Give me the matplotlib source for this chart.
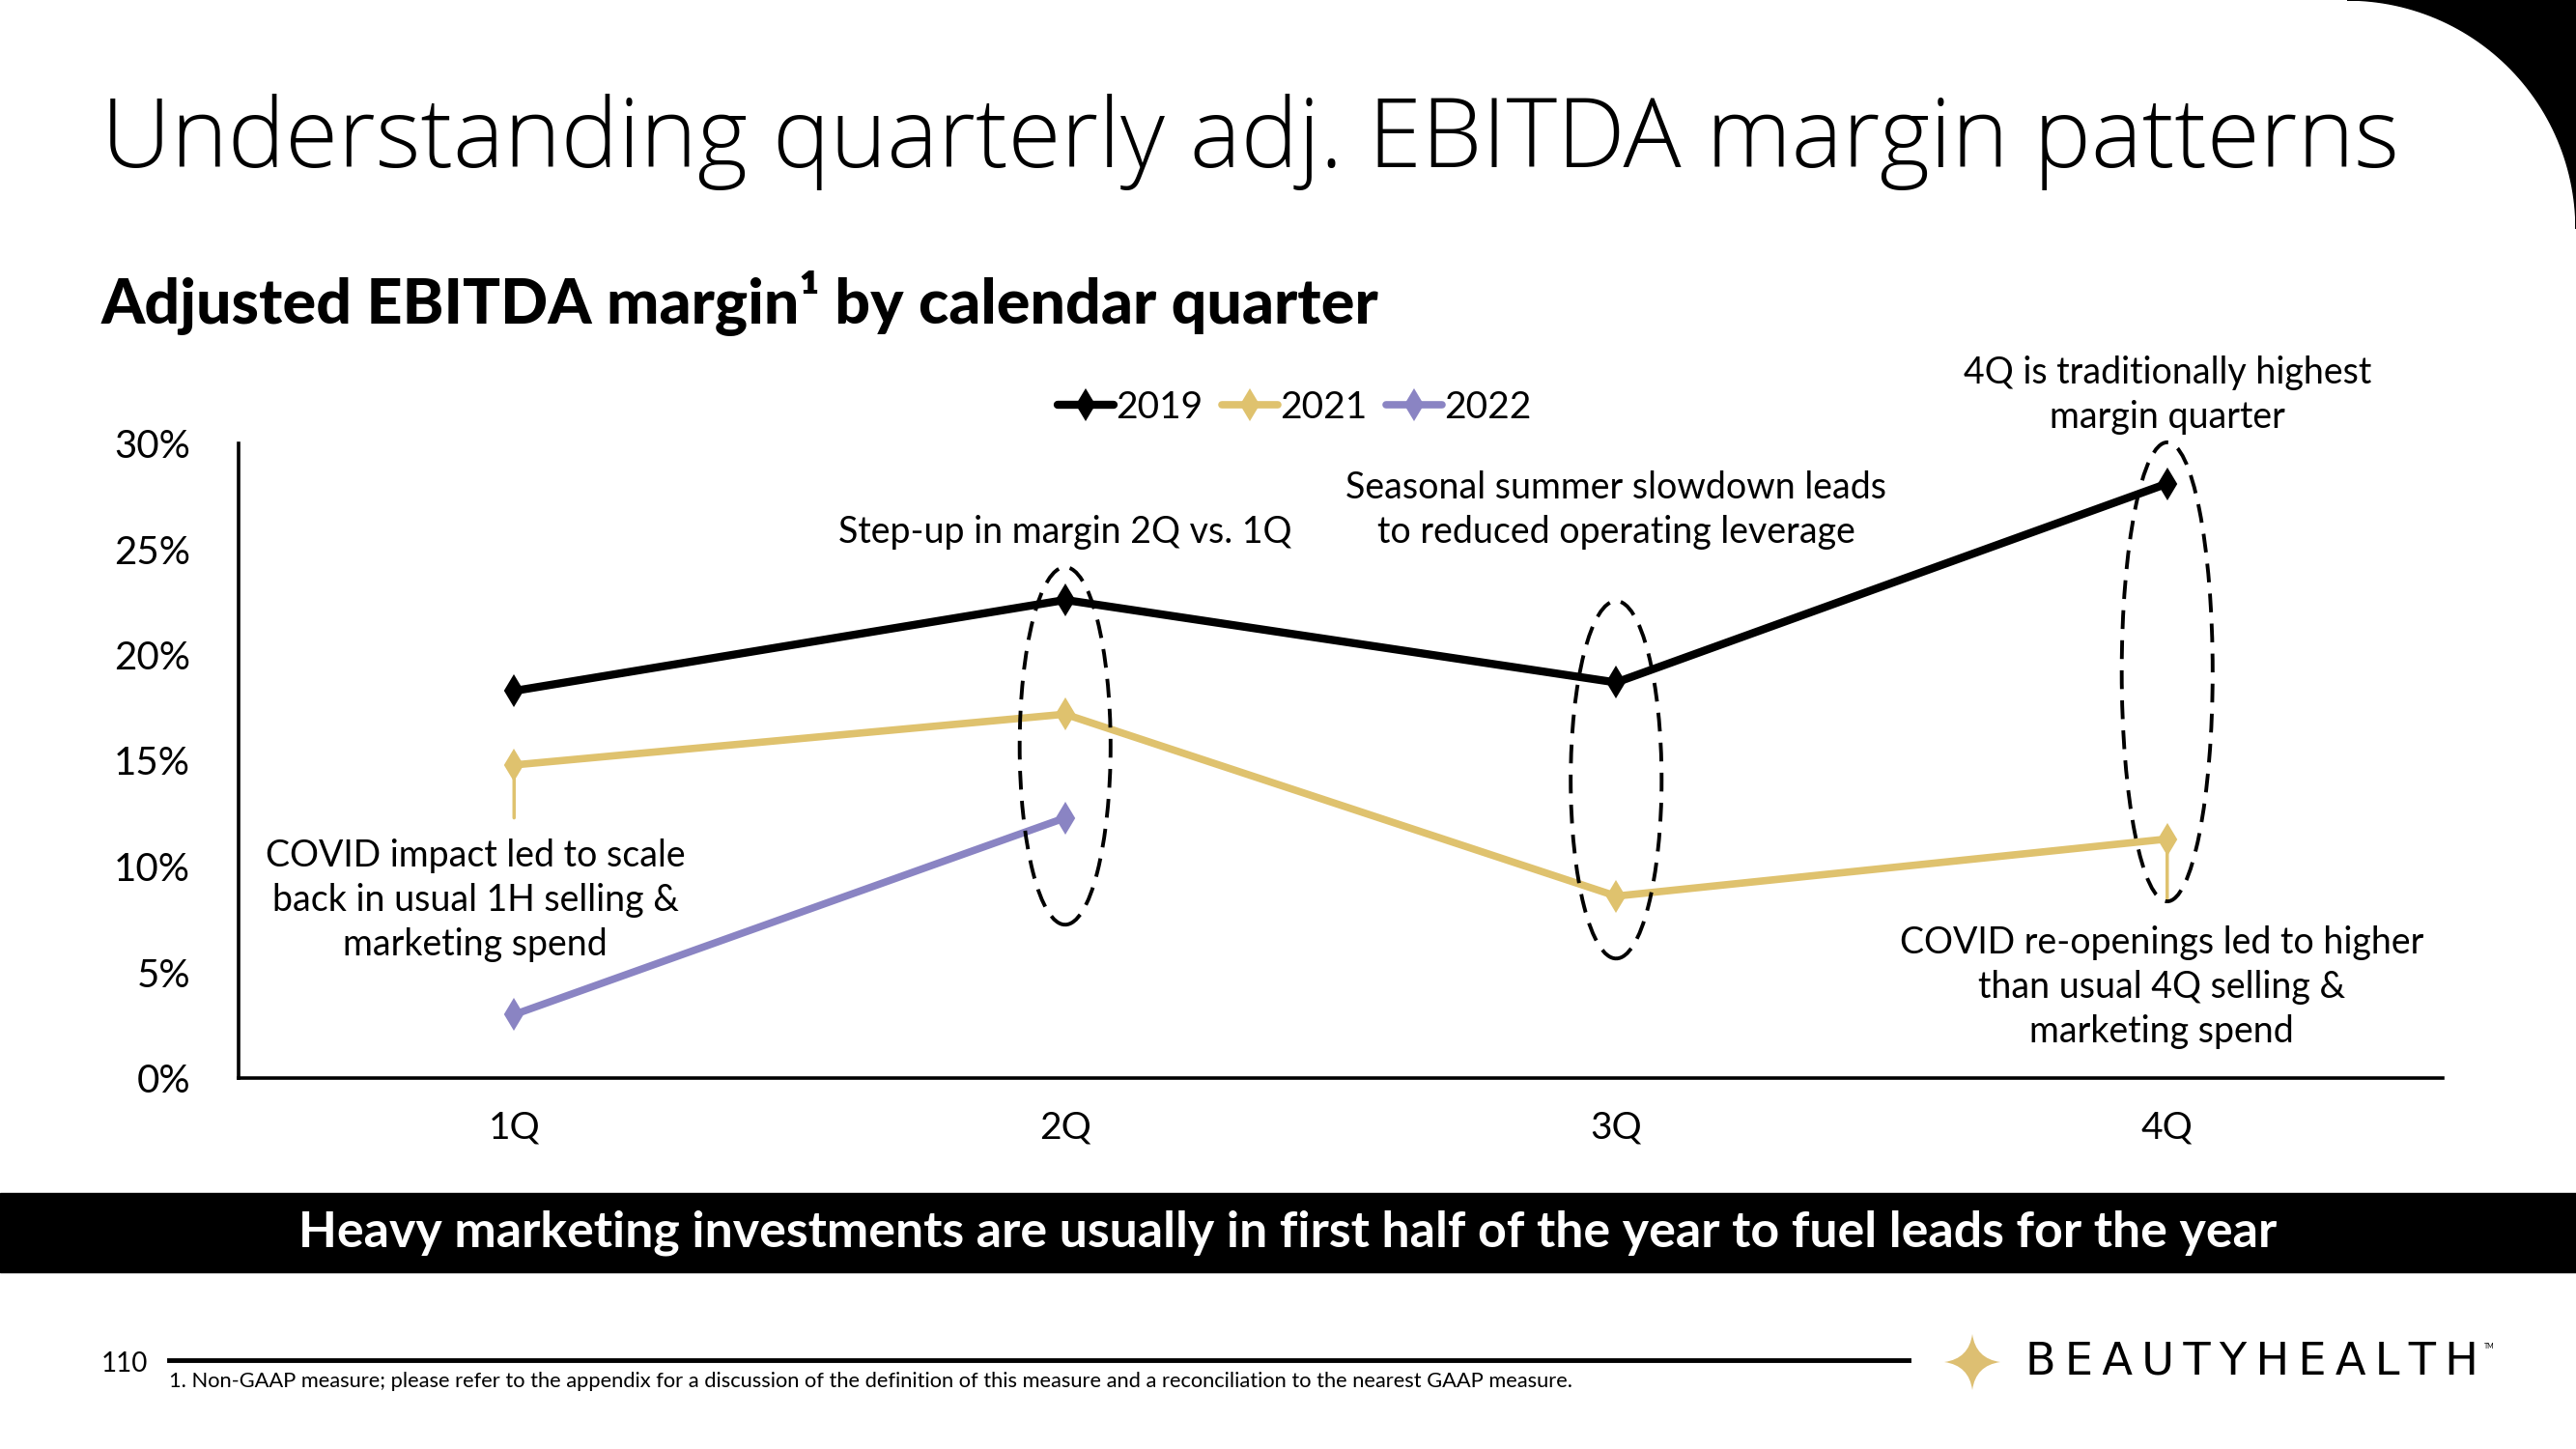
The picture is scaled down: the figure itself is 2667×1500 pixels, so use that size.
import numpy as np
import matplotlib
matplotlib.use("Agg")
from matplotlib import pyplot as plt
from matplotlib.patches import Ellipse, Rectangle, Polygon, PathPatch
from matplotlib.path import Path

plt.rcParams['font.family'] = ['Lato', 'DejaVu Sans']

# data
quarters = ['1Q', '2Q', '3Q', '4Q']
m2019 = [18.3, 22.6, 18.7, 28.1]
m2021 = [14.8, 17.2, 8.6, 11.3]
m2022 = [3.0, 12.3]
yticks = [0, 5, 10, 15, 20, 25, 30]

# dashed ellipses: (quarter index, centre %, height %)
ovals = [(1, 15.7, 16.9), (2, 14.1, 16.9), (3, 19.2, 21.7)]

BLACK = '#000000'
GOLD = '#DFC26E'
PURPLE = '#8A84C3'

W, H = 2667, 1500
fig = plt.figure(figsize=(W / 100, H / 100), dpi=100)
renderer = fig.canvas.get_renderer()


def fit(txt, width_px):
    # scale the font so the text spans the width seen in the slide
    w = txt.get_window_extent(renderer).width
    txt.set_fontsize(txt.get_fontsize() * width_px / w)


ax = fig.add_axes([247 / W, 1 - 1116 / H, (2529 - 247) / W, (1116 - 459) / H])

x = np.arange(len(quarters))
mk = dict(marker='d', ms=15, mew=1.5)
ax.plot(x, m2019, color=BLACK, lw=6, label='2019', solid_capstyle='round', **mk)
ax.plot(x, m2021, color=GOLD, lw=5.5, label='2021', solid_capstyle='round', **mk)
ax.plot(x[:len(m2022)], m2022, color=PURPLE, lw=5.5, label='2022', solid_capstyle='round', **mk)

# leader lines from the 2021 points to the covid notes
ax.annotate('', xy=(0, m2021[0]), xytext=(0, m2021[0] - 2.5),
            arrowprops=dict(arrowstyle='-', color=GOLD, lw=2.5, shrinkA=0, shrinkB=0))
ax.annotate('', xy=(3, m2021[3]), xytext=(3, m2021[3] - 2.9),
            arrowprops=dict(arrowstyle='-', color=GOLD, lw=2.5, shrinkA=0, shrinkB=0))

for q, yc, hgt in ovals:
    ax.add_patch(Ellipse((q, yc), 0.165, hgt, fill=False, ec=BLACK, lw=2.8,
                         ls=(0, (5, 3)), clip_on=False, zorder=5))

ax.set_xlim(-0.5, 3.5)
ax.set_ylim(0, 30)
ax.set_xticks(x)
ax.set_xticklabels(quarters, fontsize=28)
ax.set_yticks(yticks)
ax.set_yticklabels([f'{v}%' for v in yticks], fontsize=29)
ax.tick_params(axis='both', length=0)
ax.tick_params(axis='y', pad=36)
ax.tick_params(axis='x', pad=24)
for s in ['top', 'right']:
    ax.spines[s].set_visible(False)
for s in ['left', 'bottom']:
    ax.spines[s].set_linewidth(2.6)

tf = dict(fontsize=27, ha='center', va='center', linespacing=1.35)
ax.text(3, 32.3, '4Q is traditionally highest\nmargin quarter', clip_on=False, **tf)
ax.text(2, 26.85, 'Seasonal summer slowdown leads\nto reduced operating leverage', **tf)
ax.text(1, 25.8, 'Step-up in margin 2Q vs. 1Q', **tf)
ax.text(-0.07, 8.4, 'COVID impact led to scale\nback in usual 1H selling &\nmarketing spend', **tf)
ax.text(2.99, 4.3, 'COVID re-openings led to higher\nthan usual 4Q selling &\nmarketing spend', **tf)

fig.legend(loc='center', bbox_to_anchor=(1340 / W, 1 - 422 / H), ncol=3, frameon=False,
           fontsize=28, handlelength=1.5, handletextpad=0.05, columnspacing=0.5)

# titles
title = fig.text(105 / W, 1 - 173 / H, 'Understanding quarterly adj. EBITDA margin patterns',
                 fontsize=64, va='baseline', family=['Open Sans', 'Lato'], fontweight='light')
fit(title, 2381)
sub = fig.text(105 / W, 1 - 335 / H, 'Adjusted EBITDA margin\u00b9 by calendar quarter',
               fontsize=44, fontweight='black', va='baseline')
fit(sub, 1323)

# banner
fig.patches.append(Rectangle((0, 1 - 1317 / H), 1, 82 / H, transform=fig.transFigure,
                             color='black', zorder=0))
banner = fig.text(0.5, 1 - 1276 / H,
                  'Heavy marketing investments are usually in first half of the year to fuel leads for the year',
                  color='white', fontsize=40, fontweight='bold', ha='center', va='center')
fit(banner, 2051)

# top-right corner shape
t = np.linspace(0, np.pi / 2, 60)
cx, cy, r = 2430, 237, 237
arc = [(cx + r * np.sin(a), cy - r * np.cos(a)) for a in t]
pts = arc + [(W, 0)]
fig.patches.append(Polygon([(px / W, 1 - py / H) for px, py in pts], closed=True,
                           transform=fig.transFigure, color='black'))

# footer
fig.text(105 / W, 1 - 1412 / H, '110', fontsize=20, va='center')
fig.add_artist(plt.Line2D([175 / W, 1976 / W], [1 - 1408 / H, 1 - 1408 / H],
                          transform=fig.transFigure, color='black', lw=3.5))
note = fig.text(175 / W, 1 - 1430 / H,
                '1. Non-GAAP measure; please refer to the appendix for a discussion of the definition '
                'of this measure and a reconciliation to the nearest GAAP measure.',
                fontsize=14.5, va='center')
fit(note, 1458)

# logo star
sx, sy, sr = 2042, 1410, 29
k = 0.12
verts = [(0, sr), (k * sr, k * sr), (sr, 0), (k * sr, -k * sr), (0, -sr),
         (-k * sr, -k * sr), (-sr, 0), (-k * sr, k * sr), (0, sr)]
codes = [Path.MOVETO] + [Path.CURVE3] * 8
star = Path([((sx + vx) / W, 1 - (sy - vy) / H) for vx, vy in verts], codes)
fig.patches.append(PathPatch(star, transform=fig.transFigure, fc='#DDBF72', ec='none'))
logo = fig.text(2097 / W, 1 - 1410 / H, '\u200a\u200a'.join('BEAUTYHEALTH'), fontsize=32,
                va='center', family=['DejaVu Sans'])
fit(logo, 468)
fig.text(2572 / W, 1 - 1394 / H, 'TM', fontsize=5, va='center')

fig.savefig('out.png', dpi=100)
